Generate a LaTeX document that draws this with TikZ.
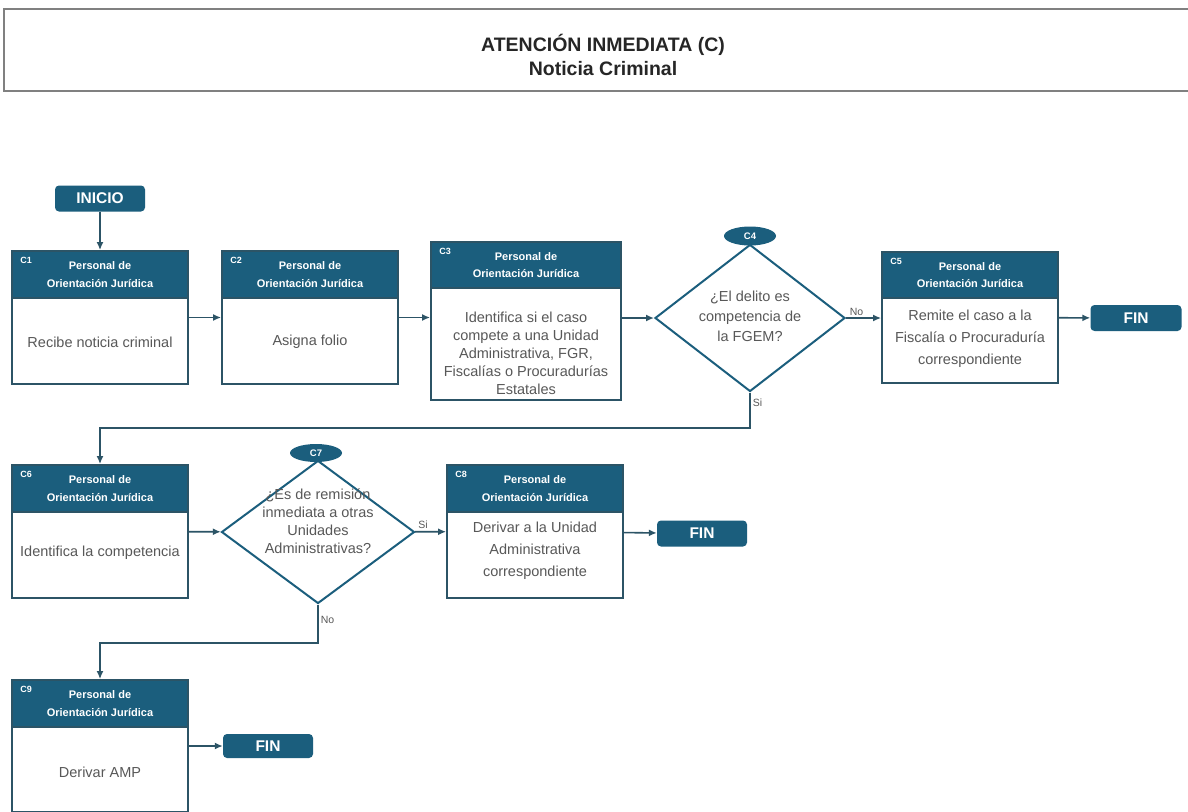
\documentclass[tikz,border=0pt]{standalone}
\usepackage{fontspec}
\setmainfont{Liberation Sans}
\usetikzlibrary{shapes,positioning,calc,arrows.meta}
\definecolor{dteal}{RGB}{27,94,125}
\definecolor{dline}{RGB}{44,84,102}
\definecolor{tgray}{RGB}{88,88,88}

\begin{document}
\begin{tikzpicture}[x=1pt, y=-1pt,
    stepframe/.style={draw=dline, line width=1.8pt, fill=white, minimum width=176pt, minimum height=133pt, inner sep=0pt},
    stephead/.style={draw=dline, line width=1.8pt, fill=dteal, text=white, font=\fontsize{11}{17.5}\selectfont\bfseries, align=center, minimum width=176pt, minimum height=47pt, inner sep=0pt, anchor=north},
    stepid/.style={text=white, font=\fontsize{9}{10}\selectfont\bfseries, anchor=north west, inner sep=0pt},
    steptext/.style={text=tgray, font=\fontsize{14.5}{20}\selectfont, align=center, inner sep=0pt},
    decision/.style={diamond, draw=dteal, line width=2pt, fill=white, inner sep=0pt},
    decid/.style={ellipse, fill=dteal, text=white, font=\fontsize{9.5}{10}\selectfont\bfseries, minimum width=52pt, minimum height=19pt, inner sep=0pt},
    terminal/.style={fill=dteal, rounded corners=4pt, text=white, font=\fontsize{15.5}{17}\selectfont\bfseries, minimum width=90pt, minimum height=26pt, inner sep=0pt},
    flow/.style={draw=dline, line width=1.6pt, -{Latex[length=8pt,width=7pt]}},
    answer/.style={text=tgray, font=\fontsize{10.5}{11}\selectfont, inner sep=2pt}
]
    \useasboundingbox[fill=white] (0,0) rectangle (1188,811);

    % title
    \node[draw=gray, line width=1.6pt, minimum width=1196pt, minimum height=82pt, inner sep=0pt] (tbox) at (602,50) {};
    \node[font=\fontsize{19.5}{24}\selectfont\bfseries, text=black!85, align=center] (ttl) at (603,55) {ATENCIÓN INMEDIATA (C)\\Noticia Criminal};

    % first row
    \node[terminal] (ini) at (100,198.5) {INICIO};

    \node[stepframe] (c1) at (100,317.5) {};
    \node[stephead] (c1h) at (c1.north) {Personal de\\Orientación Jurídica};
    \node[stepid] at ([xshift=9pt,yshift=-7pt]c1.north west) {C1};
    \node[steptext] at ($(c1h.south)!0.5!(c1.south)$) {Recibe noticia criminal};

    \node[stepframe] (c2) at (310,317.5) {};
    \node[stephead] (c2h) at (c2.north) {Personal de\\Orientación Jurídica};
    \node[stepid] at ([xshift=9pt,yshift=-7pt]c2.north west) {C2};
    \node[steptext] at ($(c2h.south)!0.5!(c2.south)$) {Asigna folio};

    \node[stepframe, minimum width=190pt, minimum height=158pt] (c3) at (526,321) {};
    \node[stephead, minimum width=190pt, minimum height=46pt] (c3h) at (c3.north) {Personal de\\Orientación Jurídica};
    \node[stepid] at ([xshift=9pt,yshift=-7pt]c3.north west) {C3};
    \node[steptext, font=\fontsize{14.5}{18}\selectfont] at ([yshift=-8pt]$(c3h.south)!0.5!(c3.south)$) {Identifica si el caso\\compete a una Unidad\\Administrativa, FGR,\\Fiscalías o Procuradurías\\Estatales};

    \node[decision, minimum width=190pt, minimum height=147pt] (c4) at (750,318) {};
    \node[decid] (c4id) at (750,236) {C4};
    \node[steptext] at (750,316) {¿El delito es\\competencia de\\la FGEM?};

    \node[stepframe, minimum height=131pt] (c5) at (970,317.5) {};
    \node[stephead, minimum height=46pt] (c5h) at (c5.north) {Personal de\\Orientación Jurídica};
    \node[stepid] at ([xshift=9pt,yshift=-7pt]c5.north west) {C5};
    \node[steptext, font=\fontsize{14.5}{22}\selectfont] at ([yshift=3pt]$(c5h.south)!0.5!(c5.south)$) {Remite el caso a la\\Fiscalía o Procuraduría\\correspondiente};

    \node[terminal, minimum width=91pt] (fin1) at (1136,318) {FIN};

    % second row
    \node[stepframe] (c6) at (100,531.5) {};
    \node[stephead] (c6h) at (c6.north) {Personal de\\Orientación Jurídica};
    \node[stepid] at ([xshift=9pt,yshift=-7pt]c6.north west) {C6};
    \node[steptext] at ([yshift=3pt]$(c6h.south)!0.5!(c6.south)$) {Identifica la competencia};

    \node[decision, minimum width=193pt, minimum height=143pt] (c7) at (318,532) {};
    \node[decid, minimum height=18pt] (c7id) at (316,453) {C7};
    \node[steptext, font=\fontsize{14.5}{18}\selectfont] at (318,521) {¿Es de remisión\\inmediata a otras\\Unidades\\Administrativas?};

    \node[stepframe] (c8) at (535,531.5) {};
    \node[stephead] (c8h) at (c8.north) {Personal de\\Orientación Jurídica};
    \node[stepid] at ([xshift=9pt,yshift=-7pt]c8.north west) {C8};
    \node[steptext, font=\fontsize{14.5}{22}\selectfont] at ([yshift=5pt]$(c8h.south)!0.5!(c8.south)$) {Derivar a la Unidad\\Administrativa\\correspondiente};

    \node[terminal] (fin2) at (702,533.5) {FIN};

    % third row
    \node[stepframe, minimum height=132pt] (c9) at (100,746) {};
    \node[stephead] (c9h) at (c9.north) {Personal de\\Orientación Jurídica};
    \node[stepid] at ([xshift=9pt,yshift=-7pt]c9.north west) {C9};
    \node[steptext] at ([yshift=-2pt]$(c9h.south)!0.5!(c9.south)$) {Derivar AMP};

    \node[terminal, minimum height=24pt] (fin3) at (268,746) {FIN};

    % connectors
    \coordinate (j1) at (750,428);
    \coordinate (j2) at (318,643);

    \draw[flow] (ini) -- (c1);
    \draw[flow] (c1) -- (c2);
    \draw[flow] (c2.east) -- (c2.east -| c3.west);
    \draw[flow] (c3.east |- c4) -- (c4);
    \draw[flow] (c4.east) -- node[answer, above, pos=0.3] {No} (c4.east -| c5.west);
    \draw[flow] (c5) -- (fin1);
    \draw[flow] (c4.south) -- node[answer, right, pos=0.3] {Si} (j1) -| (c6.north);

    \draw[flow] (c6) -- (c7);
    \draw[flow] (c7) -- node[answer, above, pos=0.25] {Si} (c8);
    \draw[flow] (c8) -- (fin2);
    \draw[flow] (c7.south) -- node[answer, right, pos=0.4] {No} (j2) -| (c9.north);
    \draw[flow] (c9) -- (fin3);

\end{tikzpicture}
\end{document}
